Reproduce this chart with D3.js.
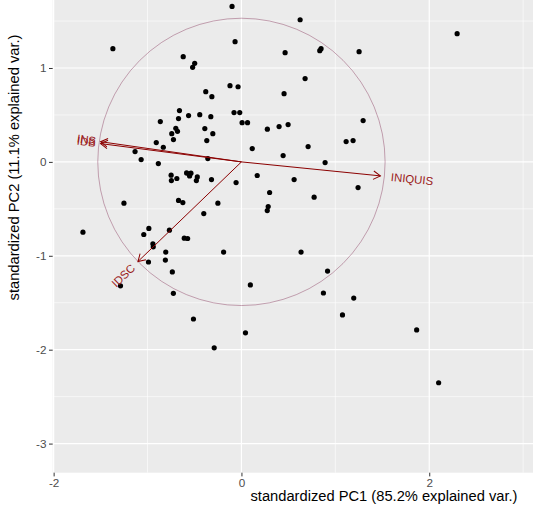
<!DOCTYPE html>
<html>
<head>
<meta charset="utf-8">
<script src="https://cdn.jsdelivr.net/npm/d3@7"></script>
<style>
  body { margin: 0; background: #ffffff; }
  text { font-family: "Liberation Sans", Arial, sans-serif; }
</style>
</head>
<body>
<div id="biplot"></div>
<script>
var pc1 = [
  -0.10, -1.369, -0.068, -0.62, -0.498, -0.52, -0.122, -0.036, -0.38, -0.315,
  -0.66, -0.079, -0.018, -0.67, -0.563, -0.444, -0.326, -0.864, 0.007, 0.065,
  -0.699, -0.681, -0.39, 0.276, -0.742, -0.305, -0.724, -0.369, -0.907, -0.832,
  0.115, -1.133, -1.068, -0.358, -0.885, 0.168, -0.749, -0.746, -0.688, -0.584,
  -0.559, -0.538, -0.552, -0.47, -0.48, -0.319, -0.057, -1.251, -0.67, -0.624,
  -0.251, -0.401, 0.30, 0.285, 0.275, -1.688, -0.986, -1.04, -0.767, -0.609,
  -0.573, -0.943, -0.939, -0.19, -0.806, -0.81, -0.99, -0.736, -1.288, 0.095,
  -0.725, 0.917, 0.873, 1.196, -0.511, 1.076, 0.043, -0.29, 1.866, 2.10,
  0.625, 0.465, 0.834, 0.848, 1.253, 2.297, 0.678, 0.454, 0.401, 0.497,
  1.296, 1.115, 1.189, 0.71, 0.444, 0.891, 0.561, 1.242, 0.774, 0.635
];
var pc2 = [
  1.656, 1.206, 1.28, 1.12, 1.05, 1.007, 0.812, 0.80, 0.748, 0.695,
  0.546, 0.525, 0.525, 0.461, 0.493, 0.503, 0.482, 0.429, 0.418, 0.418,
  0.358, 0.326, 0.355, 0.348, 0.301, 0.301, 0.238, 0.227, 0.206, 0.156,
  0.142, 0.11, 0.025, 0.035, -0.018, -0.145, -0.142, -0.199, -0.177, -0.117,
  -0.131, -0.12, -0.149, -0.16, -0.199, -0.188, -0.22, -0.44, -0.41, -0.433,
  -0.44, -0.55, -0.326, -0.475, -0.518, -0.748, -0.709, -0.773, -0.727, -0.812,
  -0.816, -0.872, -0.904, -0.96, -0.96, -1.046, -1.066, -1.172, -1.32, -1.31,
  -1.40, -1.163, -1.396, -1.45, -1.673, -1.63, -1.82, -1.98, -1.79, -2.352,
  1.514, 1.163, 1.184, 1.206, 1.174, 1.365, 0.887, 0.727, 0.376, 0.397,
  0.44, 0.216, 0.227, 0.163, 0.067, -0.007, -0.188, -0.273, -0.376, -0.96
];

// variable loadings (arrows)
var varNames = ["INS", "IDB", "INIQUIS", "IDSC"];
var varX = [-1.50, -1.50, 1.48, -1.102];
var varY = [0.215, 0.195, -0.149, -1.061];

// correlation circle radius
var circleRadius = 1.53;

// ticks
var xMajor = [-2, 0, 2];
var xMinor = [-1, 1, 3];
var yMajor = [-3, -2, -1, 0, 1];
var yMinor = [-2.5, -1.5, -0.5, 0.5, 1.5];

var xTitle = "standardized PC1 (85.2% explained var.)";
var yTitle = "standardized PC2 (11.1% explained var.)";

// svg area
var svgWidth = 533;
var svgHeight = 515;

// the panel runs past the top and right edge of the picture
var panel = { left: 52.7, bottom: 472.7 };
var unit = 93.9;

var svg = d3.select("#biplot")
  .append("svg")
  .attr("width", svgWidth)
  .attr("height", svgHeight);

var x = d3.scaleLinear()
  .domain([-2.01, 3.11])
  .range([panel.left, panel.left + 5.12 * unit]);

var y = d3.scaleLinear()
  .domain([-3.31, 1.73])
  .range([panel.bottom, panel.bottom - 5.04 * unit]);

// panel background
svg.append("rect")
  .attr("x", x(-2.01))
  .attr("y", 0)
  .attr("width", svgWidth - x(-2.01))
  .attr("height", y(-3.31))
  .attr("fill", "#ebebeb");

var grid = svg.append("g");

// minor grid
grid.selectAll(".xminor").data(xMinor).enter().append("line")
  .attr("x1", d => x(d)).attr("x2", d => x(d))
  .attr("y1", 0).attr("y2", y(-3.31))
  .attr("stroke", "#ffffff").attr("stroke-width", 0.6);
grid.selectAll(".yminor").data(yMinor).enter().append("line")
  .attr("y1", d => y(d)).attr("y2", d => y(d))
  .attr("x1", x(-2.01)).attr("x2", svgWidth)
  .attr("stroke", "#ffffff").attr("stroke-width", 0.6);

// major grid
grid.selectAll(".xmajor").data(xMajor).enter().append("line")
  .attr("x1", d => x(d)).attr("x2", d => x(d))
  .attr("y1", 0).attr("y2", y(-3.31))
  .attr("stroke", "#ffffff").attr("stroke-width", 1.2);
grid.selectAll(".ymajor").data(yMajor).enter().append("line")
  .attr("y1", d => y(d)).attr("y2", d => y(d))
  .attr("x1", x(-2.01)).attr("x2", svgWidth)
  .attr("stroke", "#ffffff").attr("stroke-width", 1.2);

// axes
var bottomAxis = d3.axisBottom(x).tickValues(xMajor).tickSize(3.7).tickPadding(2)
  .tickFormat(d => d < 0 ? "-" + Math.abs(d) : d);
var leftAxis = d3.axisLeft(y).tickValues(yMajor).tickSize(3.7).tickPadding(2.5)
  .tickFormat(d => d < 0 ? "-" + Math.abs(d) : d);

var xAxis = svg.append("g")
  .attr("transform", `translate(0, ${panel.bottom})`)
  .call(bottomAxis);
var yAxis = svg.append("g")
  .attr("transform", `translate(${panel.left}, 0)`)
  .call(leftAxis);

[xAxis, yAxis].forEach(function(a) {
  a.select(".domain").remove();
  a.selectAll(".tick line").attr("stroke", "#333333").attr("stroke-width", 1);
  a.selectAll(".tick text")
    .attr("fill", "#4d4d4d")
    .attr("font-size", "11.7px")
    .attr("font-family", "Liberation Sans, Arial, sans-serif");
});

// correlation circle
svg.append("ellipse")
  .attr("cx", x(0))
  .attr("cy", y(0))
  .attr("rx", x(circleRadius) - x(0))
  .attr("ry", y(0) - y(circleRadius))
  .attr("fill", "none")
  .attr("stroke", "#7a1e48")
  .attr("stroke-opacity", 0.38)
  .attr("stroke-width", 1);

// points
svg.append("g").selectAll("circle")
  .data(pc1.map((d, i) => [d, pc2[i]]))
  .enter()
  .append("circle")
  .attr("cx", d => x(d[0]))
  .attr("cy", d => y(d[1]))
  .attr("r", 2.6)
  .attr("fill", "#000000");

// arrows
svg.append("defs").append("marker")
  .attr("id", "head")
  .attr("viewBox", "-10 -6 12 12")
  .attr("refX", 0)
  .attr("refY", 0)
  .attr("markerUnits", "userSpaceOnUse")
  .attr("markerWidth", 12)
  .attr("markerHeight", 12)
  .attr("orient", "auto")
  .append("path")
  .attr("d", "M-7,-4.2L0,0L-7,4.2")
  .attr("fill", "none")
  .attr("stroke", "#8b0000")
  .attr("stroke-width", 1);

var arrows = varNames.map((n, i) => ({ name: n, vx: varX[i], vy: varY[i] }));

svg.append("g").selectAll("line")
  .data(arrows)
  .enter()
  .append("line")
  .attr("x1", x(0))
  .attr("y1", y(0))
  .attr("x2", d => x(d.vx))
  .attr("y2", d => y(d.vy))
  .attr("stroke", "#8b0000")
  .attr("stroke-width", 1)
  .attr("marker-end", "url(#head)");

// variable labels, rotated along the arrow like ggbiplot
var varnameAdjust = 1.5;
var labels = svg.append("g").selectAll("g")
  .data(arrows)
  .enter()
  .append("g")
  .attr("transform", function(d) {
    var angle = Math.atan(d.vy / d.vx) * 180 / Math.PI;
    return `translate(${x(d.vx)}, ${y(d.vy)}) rotate(${-angle})`;
  });

labels.append("text")
  .text(d => d.name)
  .attr("font-size", "11.4px")
  .attr("fill", "#9a1a1a")
  .attr("dy", "0.35em")
  .attr("x", function(d) {
    var w = this.getComputedTextLength();
    var hjust = (1 - varnameAdjust * Math.sign(d.vx)) / 2;
    return -hjust * w;
  });

// axis titles
svg.append("text")
  .attr("x", 384)
  .attr("y", 501)
  .attr("text-anchor", "middle")
  .attr("font-size", "14.7px")
  .attr("fill", "#000000")
  .text(xTitle);

svg.append("text")
  .attr("transform", "translate(19, 167.5) rotate(-90)")
  .attr("text-anchor", "middle")
  .attr("font-size", "14.7px")
  .attr("fill", "#000000")
  .text(yTitle);
</script>
</body>
</html>
